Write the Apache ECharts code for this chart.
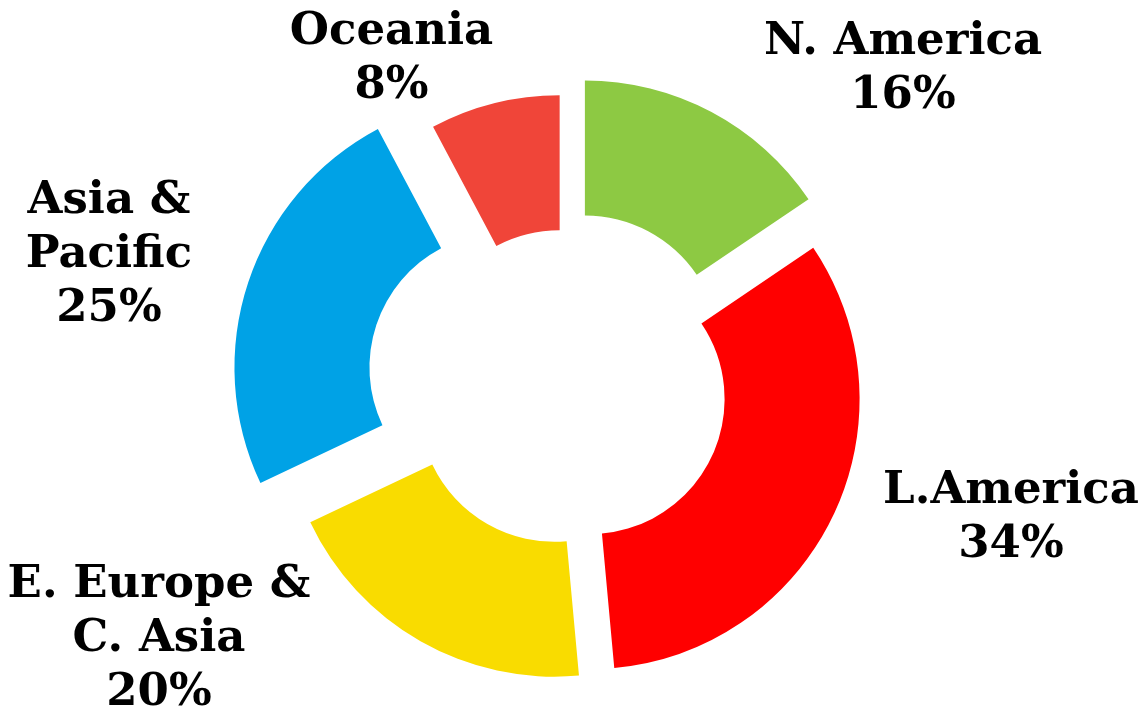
<!DOCTYPE html>
<html>
<head>
<meta charset="utf-8">
<script src="https://cdn.jsdelivr.net/npm/echarts@6/dist/echarts.min.js"></script>
<style>
html, body { margin: 0; padding: 0; background: #ffffff; }
#main { width: 1146px; height: 711px; }
</style>
</head>
<body>
<div id="main"></div>
<script>
// ---- data ----
const categories = ['N. America', 'L.America', 'E. Europe &\nC. Asia', 'Asia &\nPacific', 'Oceania'];
const shares = [16, 34, 20, 25, 8];

// ---- style / layout ----
const colors = ['#8dc943', '#ff0000', '#f9dc00', '#00a2e6', '#f04539'];
const baseCenter = [565.2, 387.6];
const explode = [42, 27, 22, 64, 23];
const labelPos = [[903, 69], [1011, 518.5], [159, 639.5], [109, 255], [391.5, 59]];
const labelFont = {
  fontFamily: "'DejaVu Serif', serif",
  fontWeight: 'bold',
  fontSize: 45,
  lineHeight: 54,
  color: '#000000'
};

const chart = echarts.init(document.getElementById('main'), null, { renderer: 'canvas' });

const total = shares.reduce((a, b) => a + b, 0);
let acc = 0;
const series = shares.map((v, i) => {
  const mid = (acc + v / 2) / total * 2 * Math.PI;
  acc += v;
  const c = [baseCenter[0] + explode[i] * Math.sin(mid), baseCenter[1] - explode[i] * Math.cos(mid)];
  return {
    type: 'pie',
    center: c,
    radius: [135, 270],
    startAngle: 90,
    clockwise: true,
    silent: true,
    animation: false,
    avoidLabelOverlap: false,
    minShowLabelAngle: 0,
    labelLine: { show: false },
    label: { show: false },
    emphasis: { disabled: true },
    data: shares.map((val, j) => ({
      name: categories[j],
      value: val,
      itemStyle: j === i ? { color: colors[j] } : { color: 'rgba(255,255,255,0)' },
      label: j === i
        ? Object.assign({ show: true, position: 'outside', formatter: '{b}\n{c}%', align: 'center' }, labelFont)
        : { show: false }
    })),
    labelLayout: () => ({ x: labelPos[i][0], y: labelPos[i][1], align: 'center', verticalAlign: 'middle' })
  };
});

chart.setOption({
  backgroundColor: '#ffffff',
  animation: false,
  series: series
});
</script>
</body>
</html>
